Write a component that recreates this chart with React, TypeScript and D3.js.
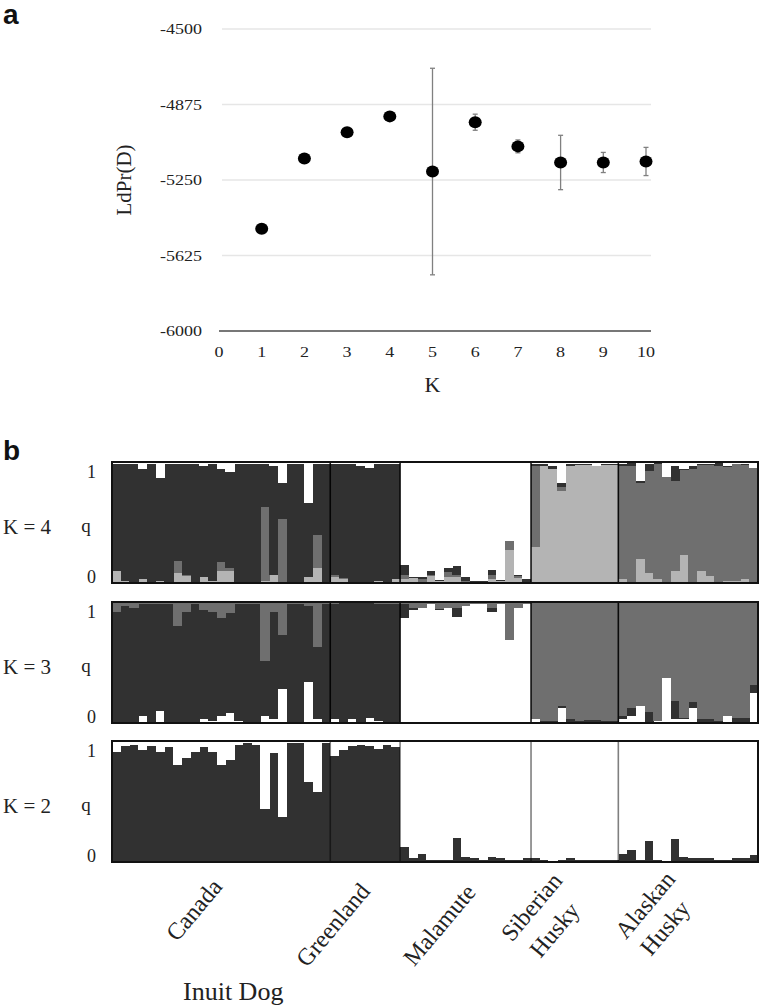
import React from 'react';
import * as d3 from 'd3';

// ---------- Panel a data ----------
const kValues = [1, 2, 3, 4, 5, 6, 7, 8, 9, 10];
const meanLnP = [-5492, -5143, -5013, -4934, -5208, -4963, -5083, -5163, -5163, -5158];
const sdLnP = [0, 0, 0, 0, 513, 40, 32, 135, 50, 70];
const yTicksA = [-6000, -5625, -5250, -4875, -4500];
const xTicksA = [0, 1, 2, 3, 4, 5, 6, 7, 8, 9, 10];

// ---------- Panel b data ----------
const groupLabels = [['Canada'], ['Greenland'], ['Malamute'], ['Siberian', 'Husky'], ['Alaskan', 'Husky']];
const groupSizes = [25, 8, 15, 10, 16];
const nulls = (n: number) => Array(n).fill(null);

// null = remainder of the individual's membership (q sums to 1)
// K = 2, stacked bottom -> top: dark, white
const k2Dark = [
  ...nulls(25),
  ...nulls(8),
  0.12, 0.035, 0.065, 0.015, 0.015, 0.015, 0.195, 0.045, 0.03, 0.02, 0.045, 0.03, 0.015, 0.015, 0.035,
  0.03, 0.015, 0.01, 0.015, 0.035, 0.015, 0.015, 0.02, 0.02, 0.02,
  0.07, 0.1, 0.015, 0.17, 0.015, 0.01, 0.19, 0.045, 0.035, 0.035, 0.03, 0.015, 0.02, 0.03, 0.035, 0.055,
];
const k2White = [
  0.094, 0.04, 0.035, 0.075, 0.04, 0.09, 0.05, 0.195, 0.14, 0.09, 0.05, 0.09, 0.2, 0.16, 0.03, 0.02, 0.03, 0.56, 0.1, 0.63, 0.02, 0.02, 0.34, 0.42, 0.02,
  0.12, 0.075, 0.04, 0.035, 0.04, 0.065, 0.03, 0.05,
  ...nulls(15),
  ...nulls(10),
  ...nulls(16),
];

// K = 3, stacked bottom -> top: white, dark, gray
const k3White = [
  0, 0, 0, 0.06, 0, 0.1, 0, 0, 0, 0, 0.03, 0.02, 0.06, 0.08, 0.02, 0, 0, 0.06, 0.03, 0.285, 0.01, 0.01, 0.34, 0.035, 0.01,
  0.035, 0.01, 0.03, 0.01, 0.04, 0.02, 0.01, 0.01,
  ...nulls(15),
  0.03, 0, 0, 0.12, 0, 0, 0.01, 0.01, 0, 0,
  0.035, 0.06, 0.14, 0, 0.02, 0.37, 0.035, 0.035, 0.12, 0, 0, 0, 0.06, 0.01, 0.01, 0.245,
];
const k3Dark = [
  ...nulls(25),
  ...nulls(8),
  0.11, 0.02, 0, 0, 0.01, 0, 0.07, 0, 0, 0, 0.03, 0, 0, 0, 0,
  0, 0.02, 0.02, 0.02, 0.03, 0.02, 0.015, 0.015, 0.02, 0.02,
  0.02, 0.065, 0, 0.09, 0, 0, 0.145, 0.01, 0.055, 0.035, 0.03, 0.02, 0, 0.03, 0.035, 0.065,
];
const k3Gray = [
  0.08, 0.03, 0.05, 0.02, 0.02, 0.02, 0.02, 0.2, 0.08, 0.02, 0.065, 0.08, 0.13, 0.09, 0.02, 0.02, 0.02, 0.49, 0.08, 0.27, 0.02, 0.02, 0.035, 0.37, 0.02,
  0.02, 0.01, 0.01, 0.01, 0.01, 0.02, 0.02, 0.02,
  0.02, 0.05, 0.05, 0.02, 0.06, 0.05, 0.05, 0.035, 0.015, 0.02, 0.05, 0.015, 0.31, 0.05, 0.02,
  ...nulls(10),
  ...nulls(16),
];

// K = 4, stacked bottom -> top: light, mid, dark, white
const k4Light = [
  0.1, 0.02, 0.01, 0.035, 0.01, 0.02, 0.01, 0.08, 0.06, 0.01, 0.05, 0.02, 0.1, 0.1, 0.01, 0.01, 0.01, 0.02, 0.065, 0.01, 0.01, 0.01, 0.05, 0.12, 0.01,
  0.05, 0.03, 0.01, 0.01, 0.01, 0.02, 0.01, 0.03,
  0.03, 0.04, 0.01, 0.06, 0.02, 0.05, 0.05, 0.01, 0.01, 0.01, 0.03, 0.02, 0.27, 0.04, 0.01,
  ...nulls(10),
  0.035, 0.01, 0.2, 0.08, 0.03, 0.01, 0.1, 0.23, 0.01, 0.1, 0.06, 0.01, 0.02, 0.02, 0.03, 0.01,
];
const k4Mid = [
  0, 0, 0, 0, 0, 0, 0, 0.1, 0.01, 0, 0, 0, 0.07, 0.02, 0, 0, 0, 0.61, 0, 0.52, 0, 0, 0, 0.28, 0,
  0.02, 0.01, 0, 0, 0, 0, 0, 0,
  0.04, 0, 0.02, 0.01, 0, 0.04, 0.02, 0.01, 0, 0, 0.04, 0, 0.08, 0.02, 0,
  0.665, 0, 0, 0.035, 0, 0, 0, 0, 0, 0,
  ...nulls(16),
];
const k4Dark = [
  ...nulls(25),
  ...nulls(8),
  0.08, 0.01, 0.02, 0.03, 0.005, 0.03, 0.07, 0.03, 0.005, 0.005, 0.04, 0.005, 0, 0.01, 0.02,
  0.02, 0.015, 0.03, 0.03, 0.02, 0.01, 0.01, 0.005, 0.01, 0.01,
  0.02, 0.02, 0.015, 0.055, 0.01, 0, 0.12, 0.005, 0.02, 0.01, 0.01, 0.02, 0.005, 0.005, 0.01, 0,
];
const k4White = [
  0.02, 0.02, 0.02, 0.06, 0.02, 0.13, 0.02, 0.02, 0.02, 0.02, 0.03, 0.02, 0.06, 0.08, 0.02, 0.02, 0.02, 0.02, 0.035, 0.175, 0.02, 0.02, 0.34, 0.02, 0.02,
  0.02, 0.02, 0.02, 0.03, 0.05, 0.02, 0.02, 0.02,
  ...nulls(15),
  0.015, 0.02, 0.03, 0.175, 0.015, 0.015, 0.015, 0.03, 0.015, 0.015,
  0.015, 0.01, 0.16, 0.02, 0.01, 0.12, 0.035, 0.06, 0.035, 0.015, 0.015, 0.01, 0.035, 0.015, 0.015, 0.05,
];

const C_DARK = '#313131';
const C_MID = '#6f6f6f';
const C_LIGHT = '#b4b4b4';
const C_WHITE = '#ffffff';

const rowsSpec = [
  { label: 'K = 4', series: [k4Light, k4Mid, k4Dark, k4White], colors: [C_LIGHT, C_MID, C_DARK, C_WHITE], sepOpacity: 0.9 },
  { label: 'K = 3', series: [k3White, k3Dark, k3Gray], colors: [C_WHITE, C_DARK, C_MID], sepOpacity: 0.9 },
  { label: 'K = 2', series: [k2Dark, k2White], colors: [C_DARK, C_WHITE], sepOpacity: 0.5 },
];

const SERIF = '"Liberation Serif", "Times New Roman", Times, serif';
const SANS = '"Liberation Sans", Arial, Helvetica, sans-serif';

export default function App() {
  // Panel a scales
  const xA = d3.scaleLinear().domain([0, 10]).range([219, 646]);
  const yA = d3.scaleLinear().domain([-6000, -4500]).range([331, 29]);

  // Panel b scales
  const nInd = d3.sum(groupSizes);
  const ids = d3.range(nInd);
  const xB = d3.scaleBand<number>().domain(ids).range([112, 758]).paddingInner(0).paddingOuter(0);
  const rowTops = [462, 602, 741];
  const rowH = 121;
  const bounds = Array.from(d3.cumsum(groupSizes));
  const starts = [0, ...bounds.slice(0, -1)];

  const rows = rowsSpec.map((spec, ri) => {
    const keys = spec.series.map((_, j) => 'c' + j);
    const records = ids.map((i) => {
      const vals = spec.series.map((s) => s[i]);
      const known = d3.sum(vals.filter((v) => v !== null) as number[]);
      const rec: Record<string, number> = {};
      vals.forEach((v, j) => {
        rec[keys[j]] = v === null ? Math.max(0, 1 - known) : (v as number);
      });
      return rec;
    });
    const stacked = d3.stack<Record<string, number>>().keys(keys)(records);
    const top = rowTops[ri];
    const y = d3.scaleLinear().domain([0, 1]).range([top + rowH, top]);
    return { spec, stacked, y, top };
  });

  const labelOffsets = [
    [[-21, 915]],
    [[-26, 930]],
    [[-20, 930]],
    [[-37, 912], [-14, 935]],
    [[-37, 910], [-17, 933]],
  ];

  return (
    <svg
      width={764}
      height={1008}
      style={{ position: 'absolute', left: 0, top: 0, background: '#fff' }}
      xmlns="http://www.w3.org/2000/svg"
    >
      <rect x={0} y={0} width={764} height={1008} fill="#fff" />
      {/* ---------------- Panel a ---------------- */}
      <text x={3} y={24} fontFamily={SANS} fontWeight="bold" fontSize={28} fill="#111">a</text>
      {yTicksA.filter((t) => t !== -6000).map((t) => (
        <line key={'g' + t} x1={xA(0) + 3} x2={xA(10) + 5} y1={yA(t)} y2={yA(t)} stroke="#e6e6e6" strokeWidth={1.5} />
      ))}
      <line x1={xA(0)} x2={xA(10) + 5} y1={yA(-6000)} y2={yA(-6000)} stroke="#777" strokeWidth={2.2} />
      {yTicksA.map((t) => (
        <text key={'yt' + t} transform={`translate(202,${yA(t) + 5}) scale(1.2,1)`} textAnchor="end" fontFamily={SERIF} fontSize={15} fill="#222">
          {t}
        </text>
      ))}
      {xTicksA.map((t) => (
        <text key={'xt' + t} transform={`translate(${xA(t)},357) scale(1.2,1)`} textAnchor="middle" fontFamily={SERIF} fontSize={15} fill="#222">
          {t}
        </text>
      ))}
      <text transform={`translate(${xA(5)},392)`} textAnchor="middle" fontFamily={SERIF} fontSize={22} fill="#222">K</text>
      <text transform={`translate(131,${yA(-5250)}) rotate(-90)`} textAnchor="middle" fontFamily={SERIF} fontSize={21} fill="#222">LdPr(D)</text>
      {kValues.map((k, i) =>
        sdLnP[i] > 0 ? (
          <g key={'e' + k} stroke="#808080" strokeWidth={1.3}>
            <line x1={xA(k)} x2={xA(k)} y1={yA(meanLnP[i] + sdLnP[i])} y2={yA(meanLnP[i] - sdLnP[i])} />
            <line x1={xA(k) - 2.5} x2={xA(k) + 2.5} y1={yA(meanLnP[i] + sdLnP[i])} y2={yA(meanLnP[i] + sdLnP[i])} />
            <line x1={xA(k) - 2.5} x2={xA(k) + 2.5} y1={yA(meanLnP[i] - sdLnP[i])} y2={yA(meanLnP[i] - sdLnP[i])} />
          </g>
        ) : null
      )}
      {kValues.map((k, i) => (
        <ellipse key={'p' + k} cx={xA(k)} cy={yA(meanLnP[i])} rx={6.5} ry={6} fill="#000" />
      ))}

      {/* ---------------- Panel b ---------------- */}
      <text x={3} y={460} fontFamily={SANS} fontWeight="bold" fontSize={28} fill="#111">b</text>
      {rows.map(({ spec, stacked, y, top }, ri) => (
        <g key={'row' + ri}>
          <g shapeRendering="crispEdges">
            {stacked.map((layer, li) =>
              layer.map((d, i) => {
                const h = y(d[0]) - y(d[1]);
                if (h <= 0) return null;
                return (
                  <rect
                    key={li + '-' + i}
                    x={xB(i)!}
                    width={xB.bandwidth() + 0.4}
                    y={y(d[1])}
                    height={h}
                    fill={spec.colors[li]}
                  />
                );
              })
            )}
          </g>
          {bounds.slice(0, -1).map((b, bi) => (
            <line
              key={'s' + bi}
              x1={xB(b)!}
              x2={xB(b)!}
              y1={top}
              y2={top + rowH}
              stroke="#000"
              strokeOpacity={spec.sepOpacity}
              strokeWidth={1.6}
            />
          ))}
          <rect x={112} y={top} width={646} height={rowH} fill="none" stroke="#111" strokeWidth={2} />
          <text x={96} y={top + 16} textAnchor="end" fontFamily={SERIF} fontSize={18} fill="#222">1</text>
          <text x={96} y={top + rowH} textAnchor="end" fontFamily={SERIF} fontSize={18} fill="#222">0</text>
          <text x={86} y={top + 70} textAnchor="middle" fontFamily={SERIF} fontSize={19} fill="#222">q</text>
          <text x={3} y={top + 72} textAnchor="start" fontFamily={SERIF} fontSize={21} fill="#222">{spec.label}</text>
        </g>
      ))}
      {groupLabels.map((lines, gi) => {
        const cx = (xB(starts[gi])! + xB(bounds[gi] - 1)! + xB.bandwidth()) / 2;
        return lines.map((ln, li) => {
          const [dx, yy] = labelOffsets[gi][li];
          return (
            <text
              key={'gl' + gi + li}
              transform={`translate(${cx + dx},${yy}) rotate(-50)`}
              textAnchor="middle"
              fontFamily={SERIF}
              fontSize={24}
              fill="#222"
            >
              {ln}
            </text>
          );
        });
      })}
      <text x={183} y={1000} fontFamily={SERIF} fontSize={26} fill="#222">Inuit Dog</text>
    </svg>
  );
}
